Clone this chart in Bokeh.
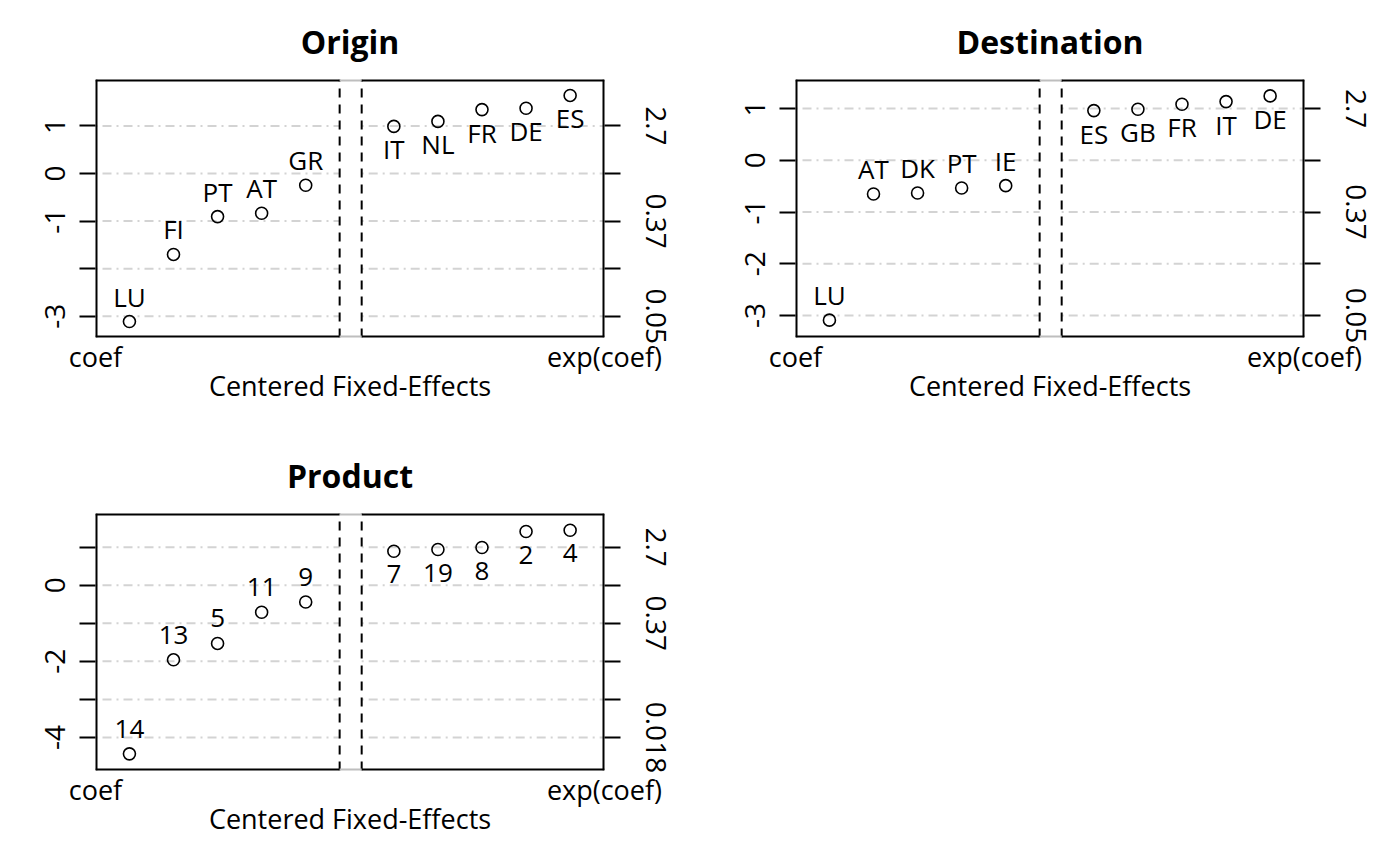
from bokeh.plotting import figure
from bokeh.models import Range1d, FixedTicker, LinearAxis
from bokeh.layouts import gridplot
from bokeh.embed import file_html
from bokeh.resources import INLINE

# ---------------- data ----------------
origin_names = ["LU", "FI", "PT", "AT", "GR", "IT", "NL", "FR", "DE", "ES"]
origin_coef = [-3.11, -1.70, -0.905, -0.834, -0.247, 0.99, 1.095, 1.343, 1.371, 1.64]

dest_names = ["LU", "AT", "DK", "PT", "IE", "ES", "GB", "FR", "IT", "DE"]
dest_coef = [-3.09, -0.652, -0.632, -0.535, -0.49, 0.961, 0.987, 1.084, 1.135, 1.245]

prod_names = ["14", "13", "5", "11", "9", "7", "19", "8", "2", "4"]
prod_coef = [-4.43, -1.96, -1.53, -0.71, -0.44, 0.893, 0.937, 0.99, 1.41, 1.445]

origin_yticks = [1, 0, -1, -2, -3]
origin_left_labels = {1: "1", 0: "0", -1: "-1", -2: "", -3: "-3"}
origin_right_labels = {1: "2.7", 0: "", -1: "0.37", -2: "", -3: "0.05"}

dest_yticks = [1, 0, -1, -2, -3]
dest_left_labels = {1: "1", 0: "0", -1: "-1", -2: "-2", -3: "-3"}
dest_right_labels = {1: "2.7", 0: "", -1: "0.37", -2: "", -3: "0.05"}

prod_yticks = [1, 0, -1, -2, -3, -4]
prod_left_labels = {1: "", 0: "0", -1: "", -2: "-2", -3: "", -4: "-4"}
prod_right_labels = {1: "2.7", 0: "", -1: "0.37", -2: "", -3: "", -4: "0.018"}

x_labels = ["coef", "exp(coef)"]
x_title = "Centered Fixed-Effects"

# ---------------- style ----------------
FONT = "Open Sans"
LBL = "26px"
XLBL = "27px"
YLBL = "28px"
X_RANGE = (0.23, 11.78)
GAP = (5.77, 6.27)
GRID_COLOR = "#d3d3d3"


def make_panel(title, names, coefs, yrange, yticks, left_labels, right_labels,
               frame_h, mb_left, mb_right, mb_top, mb_bottom):
    n = len(names)
    half = n // 2
    xs = [i + 1 if i < half else i + 2 for i in range(n)]
    ymin, ymax = yrange
    xmin, xmax = X_RANGE

    p = figure(frame_width=509, frame_height=frame_h,
               x_range=Range1d(xmin, xmax), y_range=Range1d(ymin, ymax),
               output_backend="svg", toolbar_location=None,
               min_border_left=mb_left, min_border_right=mb_right,
               min_border_top=mb_top, min_border_bottom=mb_bottom,
               background_fill_color="white", border_fill_color="white")
    p.outline_line_color = None
    p.grid.visible = False

    # title
    p.title.text = title
    p.title.align = "center"
    p.title.text_font = FONT
    p.title.text_font_size = "32px"
    p.title.text_font_style = "bold"
    p.title.text_color = "black"
    p.title.standoff = 33

    # bottom axis: "coef" / "exp(coef)" at the frame ends
    xa = p.xaxis[0]
    xa.ticker = FixedTicker(ticks=[xmin, xmax])
    xa.major_label_overrides = {xmin: x_labels[0], xmax: x_labels[1]}
    xa.axis_line_color = None
    xa.major_tick_line_color = None
    xa.minor_tick_line_color = None
    xa.major_tick_out = 0
    xa.major_tick_in = 0
    xa.major_label_standoff = 0
    xa.major_label_text_font = FONT
    xa.major_label_text_font_size = XLBL
    xa.major_label_text_color = "black"
    xa.axis_label = x_title
    xa.axis_label_text_font = FONT
    xa.axis_label_text_font_size = XLBL
    xa.axis_label_text_font_style = "normal"
    xa.axis_label_text_color = "black"
    xa.axis_label_standoff = -11

    # left axis
    ya = p.yaxis[0]
    ya.ticker = FixedTicker(ticks=yticks)
    ya.major_label_overrides = left_labels
    ya.major_label_orientation = "vertical"
    ya.axis_line_color = None
    ya.minor_tick_line_color = None
    ya.major_tick_out = 16
    ya.major_tick_in = 0
    ya.major_tick_line_width = 2
    ya.major_tick_line_color = "black"
    ya.major_label_standoff = 14
    ya.major_label_text_font = FONT
    ya.major_label_text_font_size = YLBL
    ya.major_label_text_color = "black"

    # right axis (exp scale labels)
    ra = LinearAxis(ticker=FixedTicker(ticks=yticks))
    ra.major_label_overrides = right_labels
    ra.major_label_orientation = "vertical"
    ra.axis_line_color = None
    ra.minor_tick_line_color = None
    ra.major_tick_out = 16
    ra.major_tick_in = 0
    ra.major_tick_line_width = 2
    ra.major_tick_line_color = "black"
    ra.major_label_standoff = 25
    ra.major_label_text_font = FONT
    ra.major_label_text_font_size = YLBL
    ra.major_label_text_color = "black"
    p.add_layout(ra, "right")

    # horizontal dot-dash grid lines, interrupted between the two halves
    gx0, gx1, gy = [], [], []
    for t in yticks:
        gx0 += [xmin, GAP[1]]
        gx1 += [GAP[0], xmax]
        gy += [t, t]
    p.segment(x0=gx0, y0=gy, x1=gx1, y1=gy, line_color=GRID_COLOR,
              line_width=2, line_dash="2 5 9 5")

    # vertical dashed separators
    p.segment(x0=list(GAP), y0=[ymin, ymin], x1=list(GAP), y1=[ymax, ymax],
              line_color="black", line_width=2, line_dash="9 7")

    # box: black with a grey piece between the separators (half clipped -> 2px)
    p.segment(x0=[xmin, xmax, xmin, GAP[1], xmin, GAP[1]],
              y0=[ymin, ymin, ymin, ymin, ymax, ymax],
              x1=[xmin, xmax, GAP[0], xmax, GAP[0], xmax],
              y1=[ymax, ymax, ymin, ymin, ymax, ymax],
              line_color="black", line_width=4)
    p.segment(x0=[GAP[0], GAP[0]], y0=[ymin, ymax], x1=[GAP[1], GAP[1]],
              y1=[ymin, ymax], line_color="#bebebe", line_width=4)

    # points
    p.scatter(xs, coefs, marker="circle", size=12, fill_color=None,
              line_color="black", line_width=1.6)

    # labels: above on the left half, below on the right half
    p.text(xs[:half], coefs[:half], text=names[:half], text_align="center",
           text_baseline="alphabetic", y_offset=-25, text_font_size=LBL,
           text_font={"value": FONT}, text_color="black")
    p.text(xs[half:], coefs[half:], text=names[half:], text_align="center",
           text_baseline="alphabetic", y_offset=23, text_font_size=LBL,
           text_font={"value": FONT}, text_color="black")
    return p


p1 = make_panel("Origin", origin_names, origin_coef, (-3.445, 1.975),
                origin_yticks, origin_left_labels, origin_right_labels,
                258, 95, 88, 79, 88)
p2 = make_panel("Destination", dest_names, dest_coef, (-3.425, 1.562),
                dest_yticks, dest_left_labels, dest_right_labels,
                258, 103, 80, 79, 88)
p3 = make_panel("Product", prod_names, prod_coef, (-4.868, 1.884),
                prod_yticks, prod_left_labels, prod_right_labels,
                257, 95, 88, 88, 80)

layout = gridplot([[p1, p2], [p3, None]], toolbar_location=None)

open("out.html", "w").write(file_html(layout, INLINE))
